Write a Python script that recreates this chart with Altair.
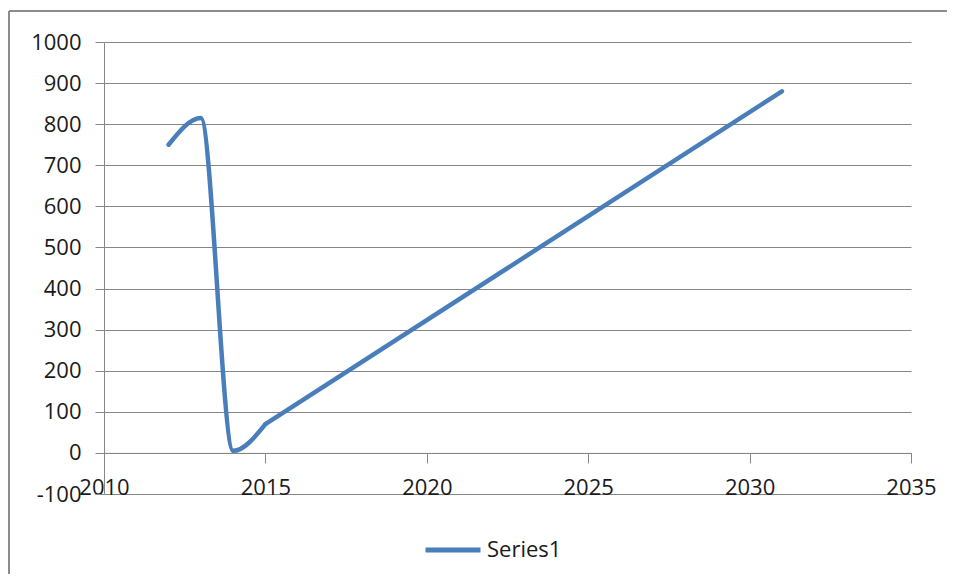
import altair as alt
import pandas as pd

years = [2012, 2013, 2014, 2015, 2031]
values = [750, 815, 5, 70, 880]
series = ["Series1"] * len(years)
x_ticks = [2010, 2015, 2020, 2025, 2030, 2035]
y_ticks = [-100, 0, 100, 200, 300, 400, 500, 600, 700, 800, 900, 1000]

df = pd.DataFrame({"year": years, "value": values, "series": series})
# Smoothed part up to 2015, straight run afterwards (as in the original)
df_curve = df[df["year"] <= 2015]
df_straight = df[df["year"] >= 2015]

W, H = 807, 452
GRAY = "#868686"
FONT = "Open Sans"
BLUE = "#4a7ebb"

x_enc = alt.X("year:Q", scale=alt.Scale(domain=[2010, 2035], nice=False, zero=False),
              axis=alt.Axis(values=x_ticks, format="d", title=None, grid=False,
                            offset=-H / 11, tickSize=10, tickColor=GRAY, domainColor=GRAY,
                            labelFontSize=22, labelFont=FONT, labelColor="#1a1a1a",
                            labelPadding=15, labelOverlap=False, labelFlush=False))
y_enc = alt.Y("value:Q", scale=alt.Scale(domain=[-100, 1000], nice=False, zero=False),
              axis=alt.Axis(values=y_ticks, title=None, grid=True, gridColor=GRAY,
                            labelExpr="'' + datum.value",
                            tickSize=9, tickColor=GRAY, domainColor=GRAY,
                            labelFontSize=22, labelFont=FONT, labelColor="#1a1a1a",
                            labelPadding=14))
color_enc = alt.Color("series:N", scale=alt.Scale(range=[BLUE]),
                      legend=alt.Legend(title=None, orient="none", legendX=319, legendY=478,
                                        symbolType="stroke", symbolSize=3025, symbolStrokeWidth=5,
                                        labelFontSize=22, labelFont=FONT, labelColor="#1a1a1a",
                                        labelOffset=4, padding=0))

curve = alt.Chart(df_curve).mark_line(interpolate="monotone", strokeWidth=4.5,
                                      strokeCap="round", strokeJoin="round", clip=False).encode(
    x=x_enc, y=y_enc, color=color_enc)

straight = alt.Chart(df_straight).mark_line(interpolate="linear", strokeWidth=4.5,
                                            strokeCap="round", strokeJoin="round", clip=False).encode(
    x="year:Q", y="value:Q", color="series:N")

# outer chart-area frame (top and left edges visible in the original)
frame_top = alt.Chart(df).mark_rule(stroke="#8c8c8c", strokeWidth=1.5, clip=False).encode(
    x=alt.value(-95), x2=alt.value(W + 60), y=alt.value(-31)
)
frame_left = alt.Chart(df).mark_rule(stroke="#8c8c8c", strokeWidth=1.5, clip=False).encode(
    x=alt.value(-95), y=alt.value(-31), y2=alt.value(H + 120)
)

chart = alt.layer(frame_top, frame_left, curve, straight).properties(
    width=W, height=H,
    padding={"left": 96, "top": 34, "right": 36, "bottom": 80},
    autosize="none",
).configure_view(stroke=None)

chart.save("out.html", embed_options={"renderer": "svg", "actions": False})
